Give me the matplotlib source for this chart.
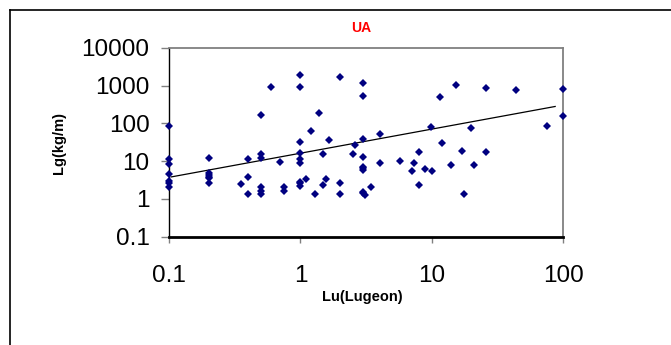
import numpy as np
import matplotlib
matplotlib.use('Agg')
import matplotlib.pyplot as plt
from matplotlib.lines import Line2D

plt.rcParams['font.family'] = ['Liberation Sans', 'DejaVu Sans']

# Lugeon values (x) and grout take (y)
lu = [0.1, 0.1, 0.1, 0.1, 0.1, 0.1, 0.1,
      0.2, 0.2, 0.2, 0.2, 0.2, 0.2,
      0.35,
      0.4, 0.4, 0.4,
      0.5, 0.5, 0.5, 0.5, 0.5, 0.5,
      0.6, 0.7, 0.75, 0.75,
      1, 1, 1, 1, 1, 1, 1, 1, 1,
      1.1, 1.2, 1.28, 1.38, 1.48, 1.49, 1.57, 1.66,
      2, 2, 2,
      2.5, 2.6,
      3, 3, 3, 3, 3, 3, 3, 3, 3, 3.1,
      3.45, 4, 4,
      5.7, 7, 7.35, 8.05, 8.05, 8.9, 9.9, 10,
      11.5, 12, 14.1, 15.3, 16.9, 17.7, 20, 20.9, 26, 26, 43.8, 74.6, 100, 100]
lg = [88, 11.5, 8.3, 4.5, 3.0, 2.7, 2.05,
      12.5, 5.0, 4.4, 3.9, 3.5, 2.66,
      2.5,
      11.5, 3.76, 1.36,
      170, 15.3, 12.5, 2.04, 1.66, 1.36,
      922, 9.4, 2.04, 1.66,
      1920, 922, 32, 16.3, 11.3, 8.85, 2.9, 2.6, 2.2,
      3.47, 62, 1.36, 184, 15.3, 2.3, 3.47, 36.8,
      1700, 2.66, 1.36,
      16, 27.7,
      1200, 540, 39, 13.3, 7.2, 6.6, 5.9, 1.57, 1.43, 1.29,
      2.04, 54, 8.85,
      10.2, 5.5, 8.85, 17.3, 2.3, 6.1, 83, 5.5,
      500, 30, 7.8, 1060, 18.8, 1.36, 77, 7.8, 866, 17.3, 752, 88, 816, 160]

# power trendline y = a * x^b, drawn over the span shown in the chart
trend_a = 16.3
trend_b = 0.639
trend_x = [0.104, 86.7]

x_ticks = [0.1, 1, 10, 100]
x_labels = ['0.1', '1', '10', '100']
y_ticks = [0.1, 1, 10, 100, 1000, 10000]
y_labels = ['0.1', '1', '10', '100', '1000', '10000']

W, H = 671, 345
fig = plt.figure(figsize=(W / 100, H / 100), dpi=100)
ax = fig.add_axes([169 / W, 1 - 236.7 / H, (563.3 - 169) / W, (236.7 - 48) / H])

ax.plot(lu, lg, linestyle='none', marker='D', ms=3.6, color='#000080',
        markeredgewidth=0, clip_on=False, zorder=3)

tx = np.geomspace(trend_x[0], trend_x[1], 50)
ax.plot(tx, trend_a * tx ** trend_b, color='black', lw=0.9, zorder=2)

ax.set_xscale('log')
ax.set_yscale('log')
ax.set_xlim(0.1, 100)
ax.set_ylim(0.1, 10000)
ax.set_xticks(x_ticks)
ax.set_xticklabels(x_labels)
ax.set_yticks(y_ticks)
ax.set_yticklabels(y_labels)
ax.minorticks_off()

ax.tick_params(axis='y', direction='out', length=6, width=1, color='#808080',
               labelsize=17.5, pad=8)
ax.tick_params(axis='x', direction='out', length=4.5, width=1, color='#808080',
               labelsize=17.5, pad=16)

ax.spines['left'].set_color('black')
ax.spines['left'].set_linewidth(1)
ax.spines['bottom'].set_color('black')
ax.spines['bottom'].set_linewidth(2)
for s in ['top', 'right']:
    ax.spines[s].set_color('#808080')
    ax.spines[s].set_linewidth(1.3)

fig.text(361 / W, 1 - 28.5 / H, 'UA', color='#ff0000', fontsize=10,
         fontweight='bold', ha='center', va='center')
fig.text(362 / W, 1 - 297.5 / H, 'Lu(Lugeon)', fontsize=10.5,
         fontweight='bold', ha='center', va='center')
fig.text(58.6 / W, 1 - 143 / H, 'Lg(kg/m)', fontsize=10.5, fontweight='bold',
         rotation=90, ha='center', va='center')

# outer chart border (left and top edges only are visible)
fig.add_artist(Line2D([10 / W, 10 / W], [0, 1 - 9.5 / H], color='black',
                      lw=1.2, transform=fig.transFigure))
fig.add_artist(Line2D([10 / W, 1], [1 - 9.5 / H, 1 - 9.5 / H], color='black',
                      lw=1.2, transform=fig.transFigure))

fig.savefig('out.png', dpi=100)
